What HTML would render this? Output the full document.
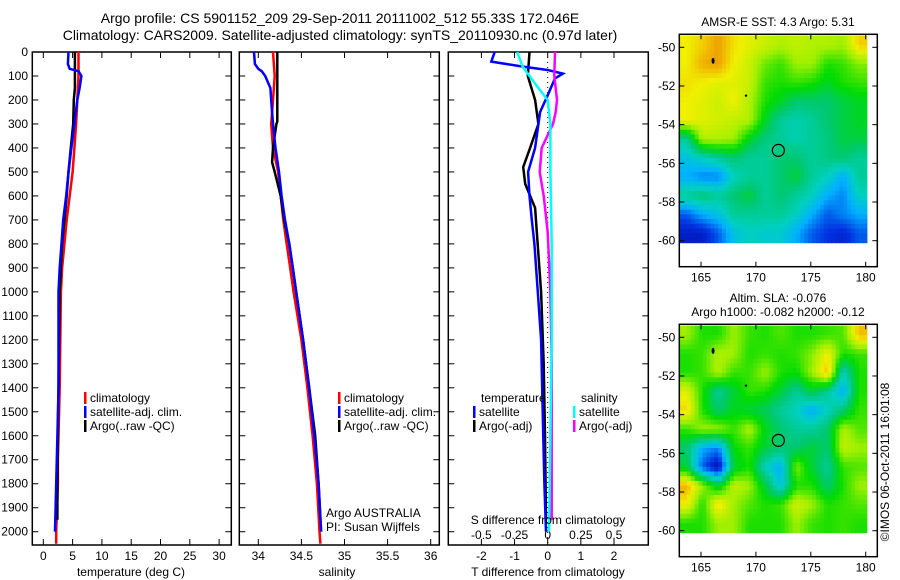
<!DOCTYPE html>
<html><head><meta charset="utf-8"><style>
body{margin:0;background:#fff}
svg{display:block;font-family:"Liberation Sans",sans-serif}
text{font-size:12px;fill:#000}
</style></head><body>
<svg id="c" width="900" height="580" viewBox="0 0 900 580">
<text x="340" y="23" text-anchor="middle" style="font-size:14px">Argo profile: CS 5901152_209 29-Sep-2011 20111002_512 55.33S 172.046E</text>
<text x="340" y="40" text-anchor="middle" style="font-size:14px">Climatology: CARS2009. Satellite-adjusted climatology: synTS_20110930.nc (0.97d later)</text>
<text x="778" y="26" text-anchor="middle">AMSR-E SST: 4.3 Argo: 5.31</text>
<text x="778" y="302" text-anchor="middle">Altim. SLA: -0.076</text>
<text x="778" y="316" text-anchor="middle">Argo h1000: -0.082 h2000: -0.12</text>
<text transform="translate(889,462) rotate(-90)" text-anchor="middle">©IMOS 06-Oct-2011 16:01:08</text>
</svg>
<script>
// ---- profile data ----
const depthTicks=[0,100,200,300,400,500,600,700,800,900,1000,1100,1200,1300,1400,1500,1600,1700,1800,1900,2000];
const tempTicks=[0,5,10,15,20,25,30];
const salTicks=[34,34.5,35,35.5,36];
const tdTicks=[-2,-1,0,1,2];
const sdTicks=[-0.5,-0.25,0,0.25,0.5];
const sdTickLabels=["-0.5","-0.25","0","0.25","0.5"];

const tClimD=[0,100,200,300,400,500,600,700,800,900,1000,1200,1400,1500,1700,1800,2000,2050];
const tClimV=[6.0,6.0,5.8,5.6,5.3,5.0,4.5,4.0,3.6,3.2,3.0,2.9,2.8,2.7,2.5,2.5,2.2,2.2];
const tSatD=[0,50,70,80,100,150,200,300,400,500,600,700,800,900,1000,1200,1400,1600,1800,2000];
const tSatV=[4.3,4.2,4.5,6.0,6.5,6.2,5.8,5.3,4.8,4.3,3.9,3.4,3.1,2.8,2.6,2.6,2.6,2.4,2.2,2.0];
const tArgoD=[0,150,200,300,400,500,600,700,800,900,1000,1200,1400,1600,1800,1950];
const tArgoV=[5.4,5.4,5.2,5.1,4.7,4.3,4.0,3.6,3.2,3.0,2.8,2.7,2.6,2.5,2.4,2.4];

const sClimD=[0,100,200,300,400,500,600,700,800,900,1000,1200,1400,1600,1800,2000,2050];
const sClimV=[34.17,34.19,34.17,34.15,34.17,34.23,34.26,34.29,34.33,34.37,34.41,34.50,34.57,34.63,34.68,34.71,34.72];
const sSatD=[0,50,70,80,100,150,200,300,400,500,600,700,800,900,1000,1200,1400,1600,1800,2000];
const sSatV=[33.95,33.96,34.0,34.04,34.08,34.14,34.15,34.17,34.2,34.24,34.27,34.31,34.36,34.40,34.44,34.52,34.59,34.65,34.70,34.73];
const sArgoD=[0,290,300,400,460,500,600,700,800,900,1000,1200,1400,1600,1800,1950];
const sArgoV=[34.22,34.22,34.21,34.17,34.16,34.19,34.26,34.30,34.36,34.40,34.44,34.52,34.59,34.66,34.70,34.72];

const dtSatD=[0,40,60,75,90,110,180,250,400,500,600,700,800,1000,1200,1500,1800,2000];
const dtSatV=[-1.6,-1.7,-0.8,0,0.46,0.22,0,-0.23,-0.38,-0.59,-0.55,-0.48,-0.4,-0.3,-0.2,-0.15,-0.1,-0.05];
const dtArgoD=[0,100,200,300,400,480,550,650,750,1000,1300,1600,1950];
const dtArgoV=[-0.55,-0.6,-0.38,-0.28,-0.53,-0.74,-0.68,-0.38,-0.33,-0.2,-0.12,-0.08,-0.05];
const dsSatD=[0,60,150,200,300,500,800,1200,1600,2000];
const dsSatV=[-0.23,-0.19,-0.07,0,0.02,0.02,0.03,0.03,0.02,0.01];
const dsArgoD=[0,100,200,250,300,400,500,600,750,1000,1300,1600,1950];
const dsArgoV=[0.055,0.05,0.07,0.06,0.04,-0.045,-0.06,-0.03,0,0.02,0.03,0.03,0.03];

// ---- map data (rows top->bottom lat -50..-60, cols lon 163..180) ----
const sstGrid=[
[0.82,0.86,0.92,0.84,0.8,0.77,0.74,0.76,0.74,0.74,0.72,0.86],
[0.82,0.9,0.92,0.82,0.77,0.68,0.64,0.72,0.72,0.62,0.64,0.7],
[0.84,0.82,0.8,0.8,0.77,0.64,0.62,0.64,0.62,0.57,0.62,0.64],
[0.82,0.8,0.77,0.82,0.74,0.62,0.57,0.5,0.5,0.5,0.54,0.57],
[0.82,0.8,0.78,0.76,0.74,0.57,0.45,0.42,0.45,0.5,0.54,0.57],
[0.45,0.74,0.74,0.72,0.57,0.48,0.45,0.42,0.45,0.48,0.54,0.54],
[0.35,0.4,0.45,0.5,0.45,0.45,0.5,0.5,0.45,0.48,0.5,0.45],
[0.3,0.25,0.25,0.4,0.45,0.45,0.5,0.55,0.45,0.4,0.3,0.45],
[0.45,0.5,0.45,0.5,0.55,0.45,0.5,0.45,0.4,0.3,0.25,0.4],
[0.2,0.3,0.35,0.45,0.45,0.45,0.45,0.4,0.3,0.2,0.25,0.3],
[0.1,0.1,0.2,0.35,0.4,0.38,0.38,0.3,0.2,0.15,0.12,0.2]];
const slaGrid=[
[0.72,0.62,0.62,0.72,0.64,0.62,0.66,0.62,0.62,0.64,0.66,0.88],
[0.62,0.64,0.74,0.72,0.62,0.64,0.62,0.64,0.7,0.82,0.62,0.64],
[0.62,0.64,0.74,0.64,0.64,0.72,0.62,0.6,0.72,0.88,0.4,0.62],
[0.8,0.62,0.45,0.55,0.64,0.62,0.55,0.45,0.55,0.45,0.3,0.62],
[0.85,0.62,0.5,0.58,0.55,0.52,0.45,0.4,0.3,0.4,0.5,0.64],
[0.64,0.72,0.72,0.64,0.74,0.58,0.5,0.45,0.45,0.5,0.74,0.66],
[0.5,0.3,0.25,0.6,0.64,0.55,0.5,0.5,0.55,0.5,0.76,0.72],
[0.55,0.2,0.05,0.55,0.62,0.4,0.3,0.7,0.55,0.45,0.64,0.66],
[0.9,0.72,0.55,0.76,0.72,0.55,0.35,0.62,0.62,0.5,0.62,0.72],
[0.82,0.62,0.85,0.72,0.66,0.62,0.64,0.78,0.72,0.62,0.64,0.66],
[0.62,0.62,0.72,0.72,0.62,0.62,0.62,0.72,0.64,0.62,0.64,0.62]];
const lonTicks=[165,170,175,180];
const latTicks=[-50,-52,-54,-56,-58,-60];
const argoLon=172.046, argoLat=-55.33;

const svg=document.getElementById('c');
const NS='http://www.w3.org/2000/svg';
function mk(tag,attrs,parent){const e=document.createElementNS(NS,tag);for(const k in attrs)e.setAttribute(k,attrs[k]);(parent||svg).appendChild(e);return e;}
function txt(x,y,s,anchor,parent){const t=mk('text',{x:x,y:y,'text-anchor':anchor||'start'},parent);t.textContent=s;return t;}

const Y0=52, YB=545, PPM=(531.7-52)/2000;
const yD=d=>Y0+d*PPM;
const xT=v=>43.3+5.86*v;
const xS=v=>258.3+86.2*(v-34);
const xDT=v=>547.7+33.15*v;
const xDS=v=>547.7+132.6*v;

function panel(name,L,R){
  const g=mk('g',{});
  
  
  const fr=mk('rect',{x:L,y:Y0,width:R-L,height:YB-Y0,fill:'none',stroke:'#000','stroke-width':1.5},g);
  
  
  depthTicks.forEach(d=>{
    mk('line',{x1:L,x2:L+6,y1:yD(d),y2:yD(d),stroke:'#000'},g);
    mk('line',{x1:R,x2:R-6,y1:yD(d),y2:yD(d),stroke:'#000'},g);
  });
  return g;
}
function xaxis(g,ticks,fx,labels){
  ticks.forEach((v,i)=>{const x=fx(v);
    mk('line',{x1:x,x2:x,y1:YB,y2:YB-6,stroke:'#000'},g);
    mk('line',{x1:x,x2:x,y1:Y0,y2:Y0+6,stroke:'#000'},g);
    const t=txt(x,YB+15,labels?labels[i]:String(v),'middle',g);
    
    
  });
}
function line(g,D,V,fx,color,name){
  const p=D.map((d,i)=>fx(V[i]).toFixed(1)+','+yD(d).toFixed(1)).join(' ');
  const pl=mk('polyline',{points:p,fill:'none',stroke:color,'stroke-width':2.5,'stroke-linejoin':'miter'},g);
  
  
}
function legend(g,x,y,items){
  items.forEach((it,i)=>{
    mk('rect',{x:x,y:y+i*14-10,width:2.5,height:12,fill:it[0]},g);
    const t=txt(x+6,y+i*14,it[1],'start',g);
    
    
  });
}

depthTicks.forEach(d=>{const t=txt(28,yD(d)+4,String(d),'end');
  
  });

const g1=panel('temperature-panel',32.3,231.3);
xaxis(g1,tempTicks,xT);
line(g1,tClimD,tClimV,xT,'#f00','temp-climatology-line');
line(g1,tArgoD,tArgoV,xT,'#000','temp-argo-line');
line(g1,tSatD,tSatV,xT,'#00f','temp-satellite-line');
legend(g1,84,402,[['#f00','climatology'],['#00f','satellite-adj. clim.'],['#000','Argo(..raw -QC)']]);
let t=txt(131,576,'temperature (deg C)','middle',g1);



const g2=panel('salinity-panel',239.3,439.3);
xaxis(g2,salTicks,xS);
line(g2,sClimD,sClimV,xS,'#f00','sal-climatology-line');
line(g2,sArgoD,sArgoV,xS,'#000','sal-argo-line');
line(g2,sSatD,sSatV,xS,'#00f','sal-satellite-line');
legend(g2,338,402,[['#f00','climatology'],['#00f','satellite-adj. clim.'],['#000','Argo(..raw -QC)']]);
t=txt(326,517,'Argo AUSTRALIA','start',g2);


t=txt(326,531,'PI: Susan Wijffels','start',g2);


t=txt(337,576,'salinity','middle',g2);



const g3=panel('difference-panel',448.3,648.3);
xaxis(g3,tdTicks,xDT);
sdTicks.forEach((v,i)=>{const tt=txt(xDS(v),539,sdTickLabels[i],'middle',g3);
  
  });
mk('line',{x1:xDT(0),x2:xDT(0),y1:Y0,y2:YB,stroke:'#000','stroke-dasharray':'1,4'},g3);
line(g3,dtArgoD,dtArgoV,xDT,'#000','t-diff-argo-line');
line(g3,dtSatD,dtSatV,xDT,'#00f','t-diff-satellite-line');
line(g3,dsArgoD,dsArgoV,xDS,'#f0f','s-diff-argo-line');
line(g3,dsSatD,dsSatV,xDS,'#0ff','s-diff-satellite-line');
t=txt(481,402,'temperature','start',g3);
t=txt(581,402,'salinity','start',g3);
legend(g3,473,416,[['#00f','satellite'],['#000','Argo(-adj)']]);
legend(g3,573,416,[['#0ff','satellite'],['#f0f','Argo(-adj)']]);
t=txt(548,524,'S difference from climatology','middle',g3);
t=txt(548,576,'T difference from climatology','middle',g3);

// ---- maps ----
const stops=[[0,[0,0,140]],[0.15,[0,48,224]],[0.3,[0,176,255]],[0.4,[0,208,192]],[0.5,[0,200,112]],[0.6,[0,220,0]],[0.72,[160,240,0]],[0.82,[240,240,0]],[0.9,[240,176,0]],[1,[224,96,0]]];
function cmap(v){for(let i=1;i<stops.length;i++){if(v<=stops[i][0]){const a=stops[i-1],b=stops[i];const f=(v-a[0])/(b[0]-a[0]);const c=a[1].map((x,k)=>Math.round(x+(b[1][k]-x)*f));return 'rgb('+c.join(',')+')';}}return 'rgb(224,96,0)';}
function sample(grid,fy,fx){
  const rows=grid.length, cols=grid[0].length;
  const y=Math.max(0,Math.min(rows-1,fy-0.5)), x=Math.max(0,Math.min(cols-1,fx-0.5));
  const i0=Math.floor(y), j0=Math.floor(x), i1=Math.min(rows-1,i0+1), j1=Math.min(cols-1,j0+1);
  const a=y-i0, b=x-j0;
  return (grid[i0][j0]*(1-b)+grid[i0][j1]*b)*(1-a)+(grid[i1][j0]*(1-b)+grid[i1][j1]*b)*a;
}
function map(name,grid,top,bottom,lat50){
  const g=mk('g',{});
  
  
  const L=679.3,R=877.3;
  const xL=v=>701+10.98*(v-165);
  const yL=v=>lat50+(-50-v)*19.34;
  const rows=grid.length, cols=grid[0].length, UP=4;
  const x0=xL(163), x1=xL(180.1), y0=Math.max(top,yL(-49.4)), y1=yL(-60.1);
  const cw=(x1-x0)/(cols*UP), ch=(y1-y0)/(rows*UP);
  for(let i=0;i<rows*UP;i++)for(let j=0;j<cols*UP;j++){
    const v=sample(grid,(i+0.5)/UP,(j+0.5)/UP);
    const c=mk('rect',{x:(x0+j*cw).toFixed(1),y:(y0+i*ch).toFixed(1),width:(cw+0.6).toFixed(1),height:(ch+0.6).toFixed(1),fill:cmap(v)},g);
    
    
  }
  const circ=mk('circle',{cx:xL(argoLon),cy:yL(argoLat),r:6,fill:'none',stroke:'#000','stroke-width':1.2},g);
  
  
  mk('ellipse',{cx:xL(166.1),cy:yL(-50.7),rx:1.5,ry:3,fill:'#000'},g);
  mk('circle',{cx:xL(169.1),cy:yL(-52.5),r:1.2,fill:'#000'},g);
  const fr=mk('rect',{x:L,y:top,width:R-L,height:bottom-top,fill:'none',stroke:'#000','stroke-width':1.5},g);
  
  
  lonTicks.forEach(v=>{const x=xL(v);
    mk('line',{x1:x,x2:x,y1:bottom,y2:bottom-5,stroke:'#000'},g);
    mk('line',{x1:x,x2:x,y1:top,y2:top+5,stroke:'#000'},g);
    const tt=txt(x,bottom+15,String(v),'middle',g);
    
    });
  latTicks.forEach(v=>{const y=yL(v);
    mk('line',{x1:L,x2:L+5,y1:y,y2:y,stroke:'#000'},g);
    mk('line',{x1:R,x2:R-5,y1:y,y2:y,stroke:'#000'},g);
    const tt=txt(L-4,y+4,String(v),'end',g);
    
    });
}
map('sst-map',sstGrid,34.3,266.7,47.3);
map('sla-map',slaGrid,324.3,556.7,337.3);
</script>
</body></html>
